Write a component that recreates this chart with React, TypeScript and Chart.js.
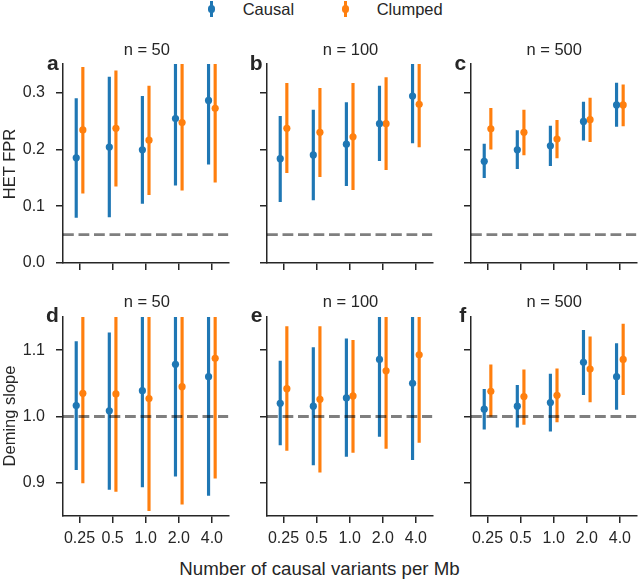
import React, { useEffect, useRef } from 'react';
import { Chart, registerables } from 'chart.js';

Chart.register(...registerables);

// ---------------- data ----------------
const categories = ['0.25', '0.5', '1.0', '2.0', '4.0'];
const fprTicks = [0, 0.1, 0.2, 0.3];
const slopeTicks = [0.9, 1.0, 1.1];
const sampleSizes = ['n = 50', 'n = 100', 'n = 500'];
const panelLetters = ['a', 'b', 'c', 'd', 'e', 'f'];
const seriesNames = ['Causal', 'Clumped'];
const fprReference = 0.05;
const slopeReference = 1.0;

// HET FPR, n = 50
const fpr50CausalMean = [0.185, 0.204, 0.199, 0.254, 0.286];
const fpr50CausalLow = [0.080, 0.081, 0.105, 0.137, 0.174];
const fpr50CausalHigh = [0.289, 0.327, 0.293, 0.37, 0.40];
const fpr50ClumpedMean = [0.234, 0.237, 0.216, 0.247, 0.272];
const fpr50ClumpedLow = [0.123, 0.135, 0.120, 0.128, 0.142];
const fpr50ClumpedHigh = [0.344, 0.338, 0.311, 0.37, 0.40];

// HET FPR, n = 100
const fpr100CausalMean = [0.1835, 0.190, 0.209, 0.245, 0.2935];
const fpr100CausalLow = [0.108, 0.111, 0.136, 0.180, 0.211];
const fpr100CausalHigh = [0.258, 0.269, 0.282, 0.311, 0.36];
const fpr100ClumpedMean = [0.237, 0.230, 0.222, 0.245, 0.279];
const fpr100ClumpedLow = [0.159, 0.152, 0.129, 0.164, 0.204];
const fpr100ClumpedHigh = [0.316, 0.307, 0.316, 0.326, 0.355];

// HET FPR, n = 500
const fpr500CausalMean = [0.179, 0.199, 0.206, 0.249, 0.278];
const fpr500CausalLow = [0.150, 0.166, 0.171, 0.216, 0.240];
const fpr500CausalHigh = [0.209, 0.233, 0.241, 0.283, 0.3165];
const fpr500ClumpedMean = [0.236, 0.230, 0.218, 0.252, 0.278];
const fpr500ClumpedLow = [0.200, 0.190, 0.185, 0.2135, 0.241];
const fpr500ClumpedHigh = [0.272, 0.269, 0.251, 0.290, 0.3135];

// Deming slope, n = 50
const slope50CausalMean = [1.0166, 1.0086, 1.039, 1.0786, 1.060];
const slope50CausalLow = [0.920, 0.890, 0.894, 0.910, 0.881];
const slope50CausalHigh = [1.113, 1.126, 1.17, 1.18, 1.18];
const slope50ClumpedMean = [1.035, 1.034, 1.027, 1.045, 1.0877];
const slope50ClumpedLow = [0.900, 0.887, 0.858, 0.868, 0.907];
const slope50ClumpedHigh = [1.17, 1.17, 1.17, 1.17, 1.20];

// Deming slope, n = 100
const slope100CausalMean = [1.020, 1.0156, 1.028, 1.086, 1.050];
const slope100CausalLow = [0.957, 0.927, 0.940, 0.970, 0.935];
const slope100CausalHigh = [1.0836, 1.104, 1.117, 1.17, 1.17];
const slope100ClumpedMean = [1.042, 1.026, 1.031, 1.069, 1.093];
const slope100ClumpedLow = [0.949, 0.916, 0.946, 0.952, 0.961];
const slope100ClumpedHigh = [1.1355, 1.1355, 1.115, 1.17, 1.18];

// Deming slope, n = 500
const slope500CausalMean = [1.011, 1.0156, 1.021, 1.0816, 1.060];
const slope500CausalLow = [0.981, 0.984, 0.978, 1.033, 1.0106];
const slope500CausalHigh = [1.041, 1.047, 1.064, 1.130, 1.110];
const slope500ClumpedMean = [1.038, 1.030, 1.032, 1.0715, 1.086];
const slope500ClumpedLow = [1.000, 0.988, 0.992, 1.022, 1.033];
const slope500ClumpedHigh = [1.078, 1.0705, 1.072, 1.120, 1.1395];

// ---------------- style ----------------
const BLUE = '#1f77b4';
const ORANGE = '#ff7f0e';
const AX = '#262626';
const FONT = "'Liberation Sans', Arial, Helvetica, sans-serif";
const DODGE = 0.1;

const COL_LEFT = [63.3, 267, 470.7];
const ROW_TOP = [64, 316.7];
const PLOT_W = 167;
const PLOT_H = 199;
const Y_AXIS_W = 50;
const PAD_TOP = 10;
const PAD_RIGHT = 2;

type Series = { mean: number[]; low: number[]; high: number[] };
type PanelSpec = {
  row: number;
  col: number;
  causal: Series;
  clumped: Series;
};

const panels: PanelSpec[] = [
  { row: 0, col: 0, causal: { mean: fpr50CausalMean, low: fpr50CausalLow, high: fpr50CausalHigh }, clumped: { mean: fpr50ClumpedMean, low: fpr50ClumpedLow, high: fpr50ClumpedHigh } },
  { row: 0, col: 1, causal: { mean: fpr100CausalMean, low: fpr100CausalLow, high: fpr100CausalHigh }, clumped: { mean: fpr100ClumpedMean, low: fpr100ClumpedLow, high: fpr100ClumpedHigh } },
  { row: 0, col: 2, causal: { mean: fpr500CausalMean, low: fpr500CausalLow, high: fpr500CausalHigh }, clumped: { mean: fpr500ClumpedMean, low: fpr500ClumpedLow, high: fpr500ClumpedHigh } },
  { row: 1, col: 0, causal: { mean: slope50CausalMean, low: slope50CausalLow, high: slope50CausalHigh }, clumped: { mean: slope50ClumpedMean, low: slope50ClumpedLow, high: slope50ClumpedHigh } },
  { row: 1, col: 1, causal: { mean: slope100CausalMean, low: slope100CausalLow, high: slope100CausalHigh }, clumped: { mean: slope100ClumpedMean, low: slope100ClumpedLow, high: slope100ClumpedHigh } },
  { row: 1, col: 2, causal: { mean: slope500CausalMean, low: slope500CausalLow, high: slope500CausalHigh }, clumped: { mean: slope500ClumpedMean, low: slope500ClumpedLow, high: slope500ClumpedHigh } },
];

function Panel({ spec }: { spec: PanelSpec }) {
  const ref = useRef<HTMLCanvasElement | null>(null);
  const isTop = spec.row === 0;
  const xAxisH = isTop ? 12 : 40;
  const width = Y_AXIS_W + PLOT_W + PAD_RIGHT;
  const height = PAD_TOP + PLOT_H + xAxisH;
  const left = COL_LEFT[spec.col] - Y_AXIS_W;
  const top = ROW_TOP[spec.row] - PAD_TOP;

  useEffect(() => {
    if (!ref.current) return;
    const yMin = isTop ? 0 : 0.85;
    const yMax = isTop ? 0.35 : 1.15;
    const yTicks = isTop ? fprTicks : slopeTicks;
    const refVal = isTop ? fprReference : slopeReference;
    const showY = spec.col === 0;
    const showX = !isTop;

    const pts = (s: Series, d: number) => s.mean.map((m, i) => ({ x: i + d, y: m }));
    const bars = (s: Series, d: number) => s.low.map((lo, i) => ({ x: i + d, y: [lo, s.high[i]] }));

    const gridCfg = {
      display: true,
      drawOnChartArea: false,
      drawTicks: true,
      tickLength: 7,
      color: AX,
      lineWidth: 1.5,
      offset: false,
    };
    const borderCfg = { display: true, color: AX, width: 1.5 };
    const tickFont = { family: FONT, size: 16 };

    const chart = new Chart(ref.current, {
      type: 'bar',
      data: {
        datasets: [
          {
            type: 'line',
            data: [{ x: -0.5, y: refVal }, { x: 4.5, y: refVal }],
            borderColor: 'rgba(0,0,0,0.5)',
            borderWidth: 2.8,
            borderDash: [10.8, 4.7],
            pointRadius: 0,
            fill: false,
            order: 0,
            clip: 0,
          } as any,
          {
            type: 'scatter',
            label: seriesNames[0],
            data: pts(spec.causal, -DODGE),
            backgroundColor: BLUE,
            borderWidth: 0,
            pointRadius: 3.6,
            pointHoverRadius: 3.6,
            order: 1,
          } as any,
          {
            type: 'scatter',
            label: seriesNames[1],
            data: pts(spec.clumped, DODGE),
            backgroundColor: ORANGE,
            borderWidth: 0,
            pointRadius: 3.6,
            pointHoverRadius: 3.6,
            order: 1,
          } as any,
          {
            type: 'bar',
            data: bars(spec.causal, -DODGE),
            backgroundColor: BLUE,
            borderWidth: 0,
            barThickness: 2.5,
            grouped: false,
            order: 2,
            clip: 0,
          } as any,
          {
            type: 'bar',
            data: bars(spec.clumped, DODGE),
            backgroundColor: ORANGE,
            borderWidth: 0,
            barThickness: 2.5,
            grouped: false,
            order: 2,
            clip: 0,
          } as any,
        ],
      },
      options: {
        responsive: false,
        animation: false,
        events: [],
        layout: { padding: { top: PAD_TOP, right: PAD_RIGHT, left: 0, bottom: 0 } },
        plugins: {
          legend: { display: false },
          tooltip: { enabled: false },
          title: { display: false },
        },
        scales: {
          x: {
            type: 'linear',
            min: -0.5,
            max: 4.5,
            offset: false,
            afterBuildTicks: (s: any) => {
              s.ticks = categories.map((_, i) => ({ value: i }));
            },
            afterFit: (s: any) => {
              s.height = xAxisH;
              s.paddingLeft = 0;
              s.paddingRight = 0;
              s.paddingTop = 0;
              s.paddingBottom = 0;
            },
            ticks: {
              display: showX,
              autoSkip: false,
              maxRotation: 0,
              minRotation: 0,
              padding: 6,
              color: AX,
              font: tickFont,
              callback: (_v: any, i: number) => categories[i],
            },
            grid: gridCfg,
            border: borderCfg,
          },
          y: {
            type: 'linear',
            min: yMin,
            max: yMax,
            afterBuildTicks: (s: any) => {
              s.ticks = yTicks.map((v) => ({ value: v }));
            },
            afterFit: (s: any) => {
              s.width = Y_AXIS_W;
              s.paddingLeft = 0;
              s.paddingRight = 0;
              s.paddingTop = 0;
              s.paddingBottom = 0;
            },
            ticks: {
              display: showY,
              padding: 11,
              color: AX,
              font: tickFont,
              callback: (v: any) => Number(v).toFixed(1),
            },
            grid: gridCfg,
            border: borderCfg,
          },
        },
      } as any,
    });
    return () => chart.destroy();
  }, []);

  return (
    <canvas
      ref={ref}
      width={width}
      height={height}
      style={{ position: 'absolute', left, top, width, height }}
    />
  );
}

function Label({
  x,
  y,
  text,
  size = 16.5,
  bold = false,
  rotate = false,
  align = 'center',
}: {
  x: number;
  y: number;
  text: string;
  size?: number;
  bold?: boolean;
  rotate?: boolean;
  align?: 'center' | 'right' | 'left';
}) {
  const tx = align === 'center' ? '-50%' : align === 'right' ? '-100%' : '0';
  return (
    <div
      style={{
        position: 'absolute',
        left: x,
        top: y,
        transform: `translate(${tx}, -50%)${rotate ? ' rotate(-90deg)' : ''}`,
        transformOrigin: rotate ? '50% 50%' : undefined,
        fontFamily: FONT,
        fontSize: size,
        fontWeight: bold ? 700 : 400,
        lineHeight: 1,
        color: AX,
        whiteSpace: 'nowrap',
      }}
    >
      {text}
    </div>
  );
}

function LegendItem({ x, textX, color, text }: { x: number; textX: number; color: string; text: string }) {
  return (
    <>
      <div style={{ position: 'absolute', left: x - 1.25, top: 0.5, width: 2.5, height: 16.5, background: color }} />
      <div
        style={{
          position: 'absolute',
          left: x - 3.6,
          top: 9 - 3.6,
          width: 7.2,
          height: 7.2,
          borderRadius: '50%',
          background: color,
        }}
      />
      <Label x={textX} y={9} text={text} align="left" />
    </>
  );
}

export default function App() {
  return (
    <div
      style={{
        position: 'absolute',
        left: 0,
        top: 0,
        width: 639,
        height: 579,
        overflow: 'hidden',
        background: '#ffffff',
      }}
    >
      <LegendItem x={211.7} textX={242.7} color={BLUE} text={seriesNames[0]} />
      <LegendItem x={345.7} textX={376.7} color={ORANGE} text={seriesNames[1]} />

      {panels.map((p, i) => (
        <Panel key={i} spec={p} />
      ))}

      {panels.map((p, i) => (
        <Label
          key={'t' + i}
          x={COL_LEFT[p.col] + PLOT_W / 2}
          y={p.row === 0 ? 48.5 : 300.5}
          text={sampleSizes[p.col]}
        />
      ))}

      {panels.map((p, i) => (
        <Label
          key={'l' + i}
          x={COL_LEFT[p.col] - 4.5}
          y={p.row === 0 ? 61.5 : 314}
          text={panelLetters[i]}
          size={21}
          bold
          align="right"
        />
      ))}

      <Label x={9} y={163.5} text="HET FPR" rotate />
      <Label x={9} y={416} text="Deming slope" rotate />
      <Label x={319.5} y={569} text="Number of causal variants per Mb" size={18.7} />
    </div>
  );
}
